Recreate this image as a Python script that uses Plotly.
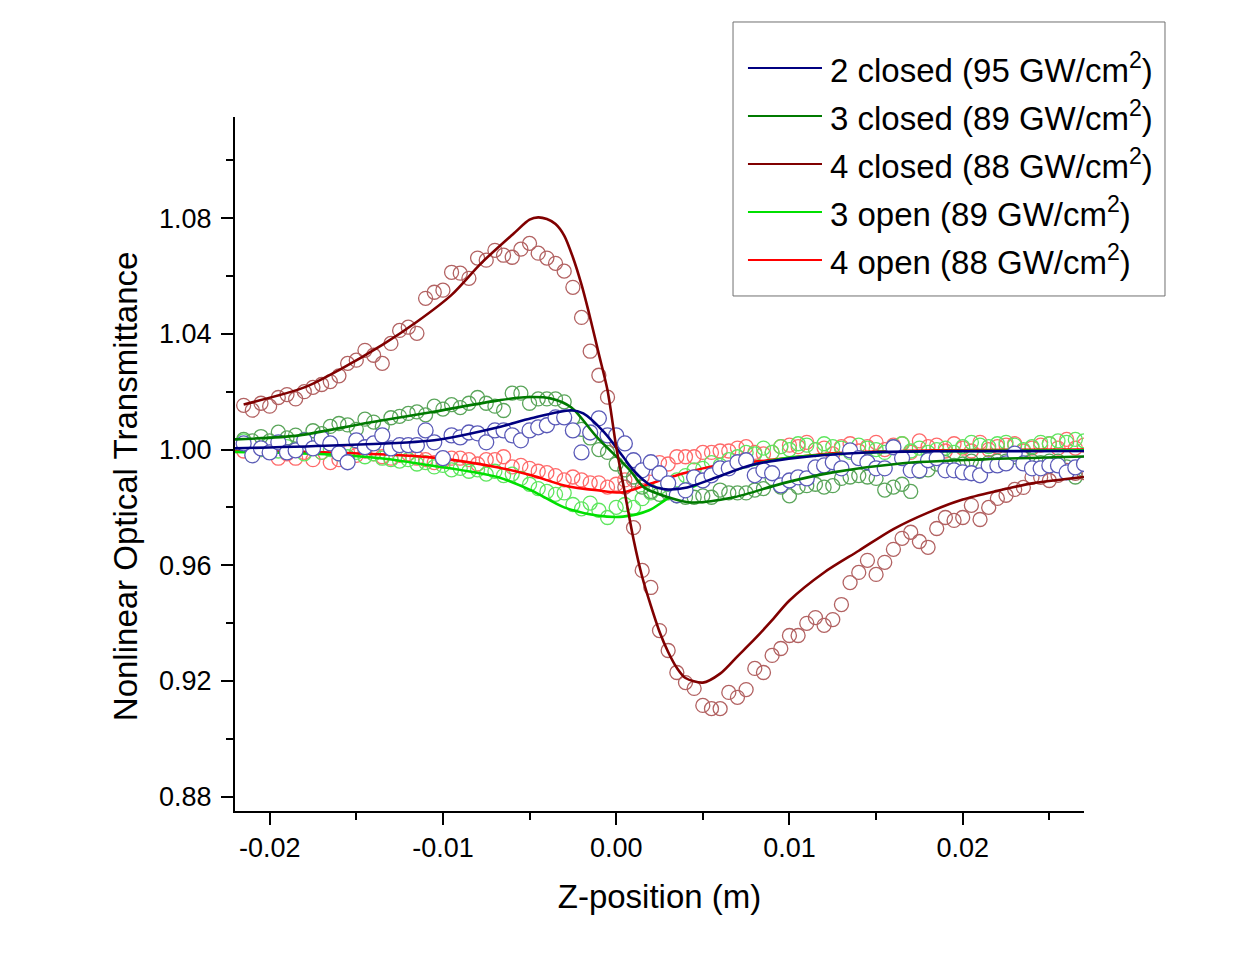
import plotly.graph_objects as go

# z positions of the measured points (m)
z_pts = [-0.0215, -0.021, -0.0205, -0.020, -0.0195, -0.019, -0.0185, -0.018, -0.0175, -0.017,
         -0.0165, -0.016, -0.0155, -0.015, -0.0145, -0.014, -0.0135, -0.013, -0.0125, -0.012,
         -0.0115, -0.011, -0.0105, -0.010, -0.0095, -0.009, -0.0085, -0.008, -0.0075, -0.007,
         -0.0065, -0.006, -0.0055, -0.005, -0.0045, -0.004, -0.0035, -0.003, -0.0025, -0.002,
         -0.0015, -0.001, -0.0005, 0.0, 0.0005, 0.001, 0.0015, 0.002, 0.0025, 0.003,
         0.0035, 0.004, 0.0045, 0.005, 0.0055, 0.006, 0.0065, 0.007, 0.0075, 0.008,
         0.0085, 0.009, 0.0095, 0.010, 0.0105, 0.011, 0.0115, 0.012, 0.0125, 0.013,
         0.0135, 0.014, 0.0145, 0.015, 0.0155, 0.016, 0.0165, 0.017, 0.0175, 0.018,
         0.0185, 0.019, 0.0195, 0.020, 0.0205, 0.021, 0.0215, 0.022, 0.0225, 0.023,
         0.0235, 0.024, 0.0245, 0.025, 0.0255, 0.026, 0.0265, 0.027]

closed2_pts = [1.0021, 0.9980, 1.0004, 0.9990, 1.0025, 0.9990, 0.9997, 1.0032, 1.0004, 1.0039,
               1.0021, 0.9987, 0.9956, 1.0032, 1.0008, 1.0021, 1.0049, 1.0004, 1.0015, 1.0015,
               1.0015, 1.0066, 1.0025, 0.9970, 1.0049, 1.0042, 1.0059, 1.0056, 1.0025, 1.0066,
               1.0066, 1.0049, 1.0032, 1.0066, 1.0077, 1.0084, 1.0111, 1.0111, 1.0066, 0.9990,
               1.0059, 1.0108, 1.0049, 1.0049, 1.0021, 0.9963, 0.9928, 0.9956, 0.9918, 0.9883,
               0.9842, 0.9859, 0.9904, 0.9893, 0.9911, 0.9935, 0.9935, 0.9956, 0.9963, 0.9911,
               0.9928, 0.9918, 0.9876, 0.9893, 0.9904, 0.9900, 0.9938, 0.9945, 0.9956, 0.9935,
               0.9997, 0.9970, 0.9956, 0.9935, 0.9935, 1.0008, 0.9970, 0.9928, 0.9928, 0.9963,
               0.9970, 0.9928, 0.9928, 0.9921, 0.9918, 0.9911, 0.9945, 0.9945, 0.9952, 0.9986,
               0.9952, 0.9935, 0.9935, 0.9945, 0.9945, 0.9921, 0.9938, 0.9950]

closed3_pts = [1.0035, 1.0030, 1.0045, 1.0030, 1.0060, 1.0040, 1.0050, 1.0035, 1.0065, 1.0055,
               1.0080, 1.0090, 1.0085, 1.0070, 1.0105, 1.0095, 1.0080, 1.0110, 1.0115, 1.0125,
               1.0130, 1.0120, 1.0150, 1.0140, 1.0155, 1.0145, 1.0160, 1.0180, 1.0160, 1.0150,
               1.0135, 1.0195, 1.0195, 1.0160, 1.0175, 1.0175, 1.0175, 1.0165, 1.0110, 1.0070,
               1.0040, 1.0000, 0.9990, 0.9950, 0.9930, 0.9905, 0.9870, 0.9855, 0.9845, 0.9850,
               0.9840, 0.9835, 0.9835, 0.9840, 0.9835, 0.9860, 0.9850, 0.9850, 0.9850, 0.9860,
               0.9865, 0.9900, 0.9870, 0.9840, 0.9870, 0.9875, 0.9880, 0.9870, 0.9875, 0.9900,
               0.9905, 0.9910, 0.9905, 0.9900, 0.9860, 0.9870, 0.9880, 0.9855, 0.9925, 0.9930,
               0.9950, 0.9955, 0.9945, 0.9950, 0.9960, 0.9945, 0.9955, 0.9960, 0.9960, 0.9975,
               0.9970, 0.9960, 0.9955, 0.9960, 0.9960, 0.9940, 0.9905, 0.9930]

closed4_pts = [1.0153, 1.0136, 1.0160, 1.0150, 1.0180, 1.0190, 1.0175, 1.0200, 1.0215, 1.0225,
               1.0235, 1.0255, 1.0298, 1.0309, 1.0343, 1.0326, 1.0298, 1.0367, 1.0412, 1.0423,
               1.0402, 1.0523, 1.0544, 1.0551, 1.0613, 1.0610, 1.0592, 1.0662, 1.0655, 1.0689,
               1.0672, 1.0665, 1.0693, 1.0713, 1.0679, 1.0662, 1.0644, 1.0617, 1.0561, 1.0457,
               1.0340, 1.0257, 1.0181, 1.0030, 0.9870, 0.9730, 0.9582, 0.9523, 0.9374, 0.9305,
               0.9229, 0.9194, 0.9174, 0.9115, 0.9104, 0.9104, 0.9160, 0.9143, 0.9170, 0.9243,
               0.9229, 0.9288, 0.9312, 0.9357, 0.9357, 0.9399, 0.9419, 0.9392, 0.9412, 0.9464,
               0.9540, 0.9575, 0.9617, 0.9568, 0.9610, 0.9655, 0.9693, 0.9714, 0.9682, 0.9662,
               0.9727, 0.9765, 0.9755, 0.9765, 0.9807, 0.9758, 0.9800, 0.9831, 0.9842, 0.9862,
               0.9869, 0.9904, 0.9904, 0.9893, 0.9911, 0.9928, 0.9918, 0.9920]

open3_pts = [1.0030, 0.9980, 1.0000, 1.0020, 0.9995, 1.0010, 1.0000, 0.9985, 1.0005, 0.9990,
             1.0000, 0.9985, 0.9975, 0.9990, 0.9975, 0.9985, 0.9970, 0.9965, 0.9960, 0.9965,
             0.9950, 0.9955, 0.9940, 0.9945, 0.9930, 0.9935, 0.9925, 0.9930, 0.9915, 0.9925,
             0.9910, 0.9915, 0.9900, 0.9880, 0.9865, 0.9855, 0.9845, 0.9850, 0.9810, 0.9795,
             0.9815, 0.9790, 0.9765, 0.9800, 0.9810, 0.9800, 0.9830, 0.9850, 0.9870, 0.9880,
             0.9895, 0.9910, 0.9930, 0.9935, 0.9955, 0.9945, 0.9965, 0.9975, 0.9990, 0.9985,
             1.0005, 0.9990, 1.0010, 1.0000, 1.0020, 1.0015, 1.0000, 1.0020, 1.0010, 1.0005,
             0.9990, 1.0015, 1.0005, 1.0000, 0.9990, 1.0010, 1.0020, 0.9995, 1.0005, 0.9990,
             1.0000, 1.0005, 0.9990, 1.0010, 1.0025, 1.0015, 1.0010, 1.0020, 1.0025, 1.0015,
             1.0000, 1.0010, 1.0025, 1.0020, 1.0030, 1.0025, 1.0035, 1.0030]

open4_pts = [0.9995, 0.9980, 1.0000, 0.9990, 0.9970, 0.9985, 0.9970, 0.9990, 0.9965, 0.9990,
             0.9955, 0.9965, 0.9990, 0.9980, 0.9995, 0.9985, 0.9975, 0.9970, 0.9980, 0.9985,
             0.9970, 0.9965, 0.9955, 0.9960, 0.9970, 0.9970, 0.9965, 0.9950, 0.9965, 0.9965,
             0.9975, 0.9940, 0.9945, 0.9935, 0.9925, 0.9920, 0.9910, 0.9895, 0.9905, 0.9895,
             0.9885, 0.9885, 0.9870, 0.9880, 0.9895, 0.9895, 0.9905, 0.9935, 0.9955, 0.9950,
             0.9975, 0.9975, 0.9975, 0.9990, 0.9990, 0.9995, 0.9995, 1.0005, 1.0010, 0.9990,
             0.9985, 0.9990, 1.0010, 1.0015, 1.0010, 1.0025, 1.0000, 1.0005, 0.9985, 1.0010,
             1.0020, 0.9995, 1.0010, 1.0025, 1.0000, 1.0015, 1.0020, 0.9990, 1.0030, 1.0010,
             1.0015, 0.9995, 1.0020, 1.0005, 0.9995, 1.0025, 1.0000, 1.0010, 1.0015, 1.0020,
             0.9995, 1.0005, 1.0015, 1.0020, 1.0005, 1.0035, 1.0005, 1.0015]

# fitted curves
closed2_fit_z = [-0.022, -0.016, -0.0105, -0.0068, -0.0049, -0.0026, -0.0019, -0.0007, 0.0004,
                 0.0010, 0.0020, 0.0030, 0.0041, 0.0058, 0.0077, 0.0106, 0.0145, 0.0183, 0.027]
closed2_fit = [1.0004, 1.0015, 1.0032, 1.0077, 1.0108, 1.0136, 1.0125, 1.0060, 0.9975,
               0.9928, 0.9876, 0.9862, 0.9869, 0.9904, 0.9945, 0.9973, 0.9990, 0.9994, 0.9995]

closed3_fit_z = [-0.022, -0.0183, -0.0145, -0.0107, -0.0068, -0.0053, -0.0038, -0.0026, -0.0011,
                 0.0008, 0.0016, 0.0030, 0.0043, 0.0068, 0.0096, 0.0125, 0.0164, 0.0212, 0.027]
closed3_fit = [1.0035, 1.0049, 1.0091, 1.0129, 1.0170, 1.0181, 1.0177, 1.0146, 1.0042,
               0.9928, 0.9869, 0.9835, 0.9817, 0.9835, 0.9883, 0.9921, 0.9952, 0.9966, 0.9976]

closed4_fit_z = [-0.0215, -0.018, -0.016, -0.0135, -0.0115, -0.0095, -0.0078, -0.0059, -0.005,
                 -0.0045, -0.004, -0.0035, -0.003, -0.0025, -0.002, -0.0015, -0.001, -0.0005,
                 0.0, 0.0005, 0.001, 0.0015, 0.002, 0.0025, 0.003, 0.0035, 0.004, 0.005,
                 0.006, 0.007, 0.008, 0.009, 0.010, 0.012, 0.014, 0.016, 0.018, 0.020,
                 0.022, 0.024, 0.027]
closed4_fit = [1.0156, 1.0215, 1.0275, 1.0362, 1.0442, 1.0535, 1.0644, 1.0748, 1.0795,
               1.0803, 1.0797, 1.0780, 1.0740, 1.0665, 1.0570, 1.0455, 1.0330, 1.0205,
               1.0010, 0.9850, 0.9690, 0.9560, 0.9460, 0.9370, 0.9300, 0.9245, 0.9210, 0.9194,
               0.9225, 0.9285, 0.9345, 0.9410, 0.9478, 0.9575, 0.9650, 0.9725, 0.9782, 0.9827,
               0.9857, 0.9883, 0.9905]

open3_fit_z = [-0.022, -0.0165, -0.0136, -0.0107, -0.0068, -0.0049, -0.0030, -0.0011, 0.0004,
               0.0019, 0.0030, 0.0049, 0.0068, 0.0097, 0.0145, 0.027]
open3_fit = [0.9992, 0.9983, 0.9970, 0.9945, 0.9904, 0.9859, 0.9800, 0.9772, 0.9768,
             0.9790, 0.9831, 0.9883, 0.9928, 0.9970, 0.9990, 0.9997]

open4_fit_z = [-0.022, -0.0165, -0.0107, -0.0068, -0.0049, -0.0030, -0.0011, 0.0004, 0.0020,
               0.0039, 0.0058, 0.0087, 0.0125, 0.0183, 0.027]
open4_fit = [0.9994, 0.9990, 0.9973, 0.9938, 0.9911, 0.9876, 0.9859, 0.9852, 0.9883,
             0.9918, 0.9945, 0.9962, 0.9987, 0.9997, 1.0000]

legend_labels = ["2 closed (95 GW/cm<sup>2</sup>)", "3 closed (89 GW/cm<sup>2</sup>)",
                 "4 closed (88 GW/cm<sup>2</sup>)", "3 open (89 GW/cm<sup>2</sup>)",
                 "4 open (88 GW/cm<sup>2</sup>)"]
line_colors = ["#000080", "#007a00", "#800000", "#00e000", "#ff0000"]

x_tick_vals = [-0.02, -0.01, 0.0, 0.01, 0.02]
x_tick_text = ["-0.02", "-0.01", "0.00", "0.01", "0.02"]
y_tick_vals = [0.88, 0.92, 0.96, 1.00, 1.04, 1.08]
y_tick_text = ["0.88", "0.92", "0.96", "1.00", "1.04", "1.08"]

FONT = "Liberation Sans, Arial, sans-serif"

fig = go.Figure()


def pts(y, color, size=14, fill=None):
    return go.Scatter(
        x=z_pts, y=y, mode="markers", showlegend=False, hoverinfo="skip",
        marker=dict(symbol="circle" if fill else "circle-open", size=size,
                    color=fill if fill else color,
                    line=dict(color=color, width=1.3)))


def fit(zs, y, color):
    return go.Scatter(x=zs, y=y, mode="lines", showlegend=False, hoverinfo="skip",
                      line=dict(color=color, width=2.6, shape="spline", smoothing=0.8))


fig.add_trace(pts(open4_pts, "#ff6a6a"))
fig.add_trace(pts(open3_pts, "#5ee65e"))
fig.add_trace(pts(closed3_pts, "#5aa55a"))
fig.add_trace(pts(closed4_pts, "#b26262"))
fig.add_trace(fit(open4_fit_z, open4_fit, line_colors[4]))
fig.add_trace(fit(open3_fit_z, open3_fit, line_colors[3]))
fig.add_trace(pts(closed2_pts, "#5a5ab8", size=15, fill="white"))
fig.add_trace(fit(closed3_fit_z, closed3_fit, line_colors[1]))
fig.add_trace(fit(closed2_fit_z, closed2_fit, line_colors[0]))
fig.add_trace(fit(closed4_fit_z, closed4_fit, line_colors[2]))

# legend drawn by hand so the line samples and box match the original
shapes = [dict(type="rect", xref="paper", yref="paper", x0=0.5866, x1=1.0954,
               y0=0.7421, y1=1.1369, line=dict(color="#707070", width=1),
               fillcolor="white", layer="below")]
annotations = []
legend_y = [1.0705, 1.0014, 0.9322, 0.8630, 0.7939]
for lab, col, ly in zip(legend_labels, line_colors, legend_y):
    shapes.append(dict(type="line", xref="paper", yref="paper", x0=0.6042, x1=0.6914,
                       y0=ly, y1=ly, line=dict(color=col, width=2)))
    annotations.append(dict(xref="paper", yref="paper", x=0.6990, y=ly, text=lab,
                            showarrow=False, xanchor="left", yanchor="middle",
                            font=dict(family=FONT, size=33, color="black")))

# y title sits a little below the middle of the axis in the original
annotations.append(dict(xref="paper", yref="paper", x=-0.1296, y=0.468,
                        text="Nonlinear Optical Transmittance", textangle=-90,
                        showarrow=False, xanchor="center", yanchor="middle",
                        font=dict(family=FONT, size=33, color="black")))

axis_common = dict(
    showline=True, linecolor="black", linewidth=2, mirror=False,
    ticks="outside", ticklen=12, tickwidth=2, tickcolor="black",
    showgrid=False, zeroline=False,
    tickfont=dict(family=FONT, size=27, color="black"),
)

# margins account for the 8px page offset of the browser
fig.update_layout(
    width=1244, height=958,
    margin=dict(l=227, r=168, t=109, b=155),
    paper_bgcolor="white", plot_bgcolor="white",
    shapes=shapes, annotations=annotations,
    xaxis=dict(
        range=[-0.022, 0.027], tickvals=x_tick_vals, ticktext=x_tick_text,
        minor=dict(dtick=0.005, tick0=0, ticks="outside", ticklen=7, tickwidth=2,
                   tickcolor="black", showgrid=False),
        title=dict(text="Z-position (m)", standoff=22,
                   font=dict(family=FONT, size=33, color="black")),
        **axis_common),
    yaxis=dict(
        range=[0.875, 1.115], tickvals=y_tick_vals, ticktext=y_tick_text,
        ticklabelstandoff=4,
        minor=dict(dtick=0.02, tick0=0.88, ticks="outside", ticklen=7, tickwidth=2,
                   tickcolor="black", showgrid=False),
        **axis_common),
)

fig.write_html("out.html")
